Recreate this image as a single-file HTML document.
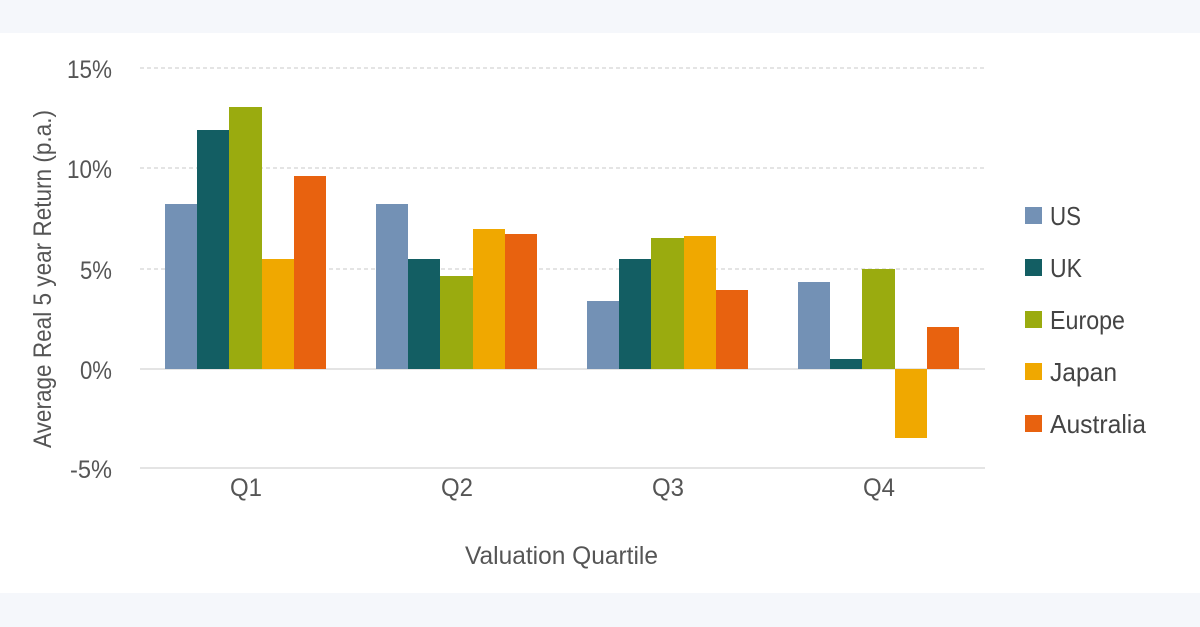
<!DOCTYPE html>
<html><head><meta charset="utf-8"><style>
html,body{margin:0;padding:0;background:#f5f7fb;}
svg{display:block;font-family:"Liberation Sans",sans-serif;}
</style></head><body>
<svg width="1200" height="627" viewBox="0 0 1200 627">
<rect x="0" y="0" width="1200" height="627" fill="#f5f7fb"/>
<rect x="0" y="33" width="1200" height="560" fill="#ffffff"/>
<g stroke="#d4d4d4" stroke-width="1.2">
<line x1="140" y1="68" x2="985" y2="68" stroke-dasharray="4,3"/>
<line x1="140" y1="168" x2="985" y2="168" stroke-dasharray="4,3"/>
<line x1="140" y1="269" x2="985" y2="269" stroke-dasharray="4,3"/>
<line x1="140" y1="369" x2="985" y2="369"/>
<line x1="140" y1="468" x2="985" y2="468" stroke="#dcdcdc" stroke-width="1.5"/>
</g>
<g font-size="25" fill="#555" lengthAdjust="spacingAndGlyphs">
<text x="67" y="78" textLength="45" lengthAdjust="spacingAndGlyphs">15%</text>
<text x="67" y="178" textLength="45" lengthAdjust="spacingAndGlyphs">10%</text>
<text x="80" y="279" textLength="32" lengthAdjust="spacingAndGlyphs">5%</text>
<text x="80" y="379" textLength="32" lengthAdjust="spacingAndGlyphs">0%</text>
<text x="70" y="478" textLength="42" lengthAdjust="spacingAndGlyphs">-5%</text>
</g>
<text transform="translate(51,448) rotate(-90)" font-size="25" fill="#555" textLength="338" lengthAdjust="spacingAndGlyphs">Average Real 5 year Return  (p.a.)</text>
<!-- Q1 -->
<rect x="165" y="204" width="32" height="165" fill="#7391b5"/>
<rect x="197" y="130" width="32" height="239" fill="#135e63"/>
<rect x="229" y="107" width="33" height="262" fill="#9aab0f"/>
<rect x="262" y="259" width="32" height="110" fill="#f0a800"/>
<rect x="294" y="176" width="32" height="193" fill="#e8620f"/>
<!-- Q2 -->
<rect x="376" y="204" width="32" height="165" fill="#7391b5"/>
<rect x="408" y="259" width="32" height="110" fill="#135e63"/>
<rect x="440" y="276" width="33" height="93" fill="#9aab0f"/>
<rect x="473" y="229" width="32" height="140" fill="#f0a800"/>
<rect x="505" y="234" width="32" height="135" fill="#e8620f"/>
<!-- Q3 -->
<rect x="587" y="301" width="32" height="68" fill="#7391b5"/>
<rect x="619" y="259" width="32" height="110" fill="#135e63"/>
<rect x="651" y="238" width="33" height="131" fill="#9aab0f"/>
<rect x="684" y="236" width="32" height="133" fill="#f0a800"/>
<rect x="716" y="290" width="32" height="79" fill="#e8620f"/>
<!-- Q4 -->
<rect x="798" y="282" width="32" height="87" fill="#7391b5"/>
<rect x="830" y="359" width="32" height="10" fill="#135e63"/>
<rect x="862" y="269" width="33" height="100" fill="#9aab0f"/>
<rect x="895" y="369" width="32" height="69" fill="#f0a800"/>
<rect x="927" y="327" width="32" height="42" fill="#e8620f"/>
<g font-size="25" fill="#555">
<text x="230" y="496" textLength="32" lengthAdjust="spacingAndGlyphs">Q1</text>
<text x="441" y="496" textLength="32" lengthAdjust="spacingAndGlyphs">Q2</text>
<text x="652" y="496" textLength="32" lengthAdjust="spacingAndGlyphs">Q3</text>
<text x="863" y="496" textLength="32" lengthAdjust="spacingAndGlyphs">Q4</text>
<text x="465" y="564" textLength="193" lengthAdjust="spacingAndGlyphs">Valuation Quartile</text>
</g>
<g>
<rect x="1025" y="207" width="17" height="17" fill="#7391b5"/>
<rect x="1025" y="259" width="17" height="17" fill="#135e63"/>
<rect x="1025" y="311" width="17" height="17" fill="#9aab0f"/>
<rect x="1025" y="363" width="17" height="17" fill="#f0a800"/>
<rect x="1025" y="415" width="17" height="17" fill="#e8620f"/>
</g>
<g font-size="26" fill="#444">
<text x="1050" y="225" textLength="31" lengthAdjust="spacingAndGlyphs">US</text>
<text x="1050" y="277" textLength="32" lengthAdjust="spacingAndGlyphs">UK</text>
<text x="1050" y="329" textLength="75" lengthAdjust="spacingAndGlyphs">Europe</text>
<text x="1050" y="381" textLength="67" lengthAdjust="spacingAndGlyphs">Japan</text>
<text x="1050" y="433" textLength="96" lengthAdjust="spacingAndGlyphs">Australia</text>
</g>
</svg>
</body></html>
